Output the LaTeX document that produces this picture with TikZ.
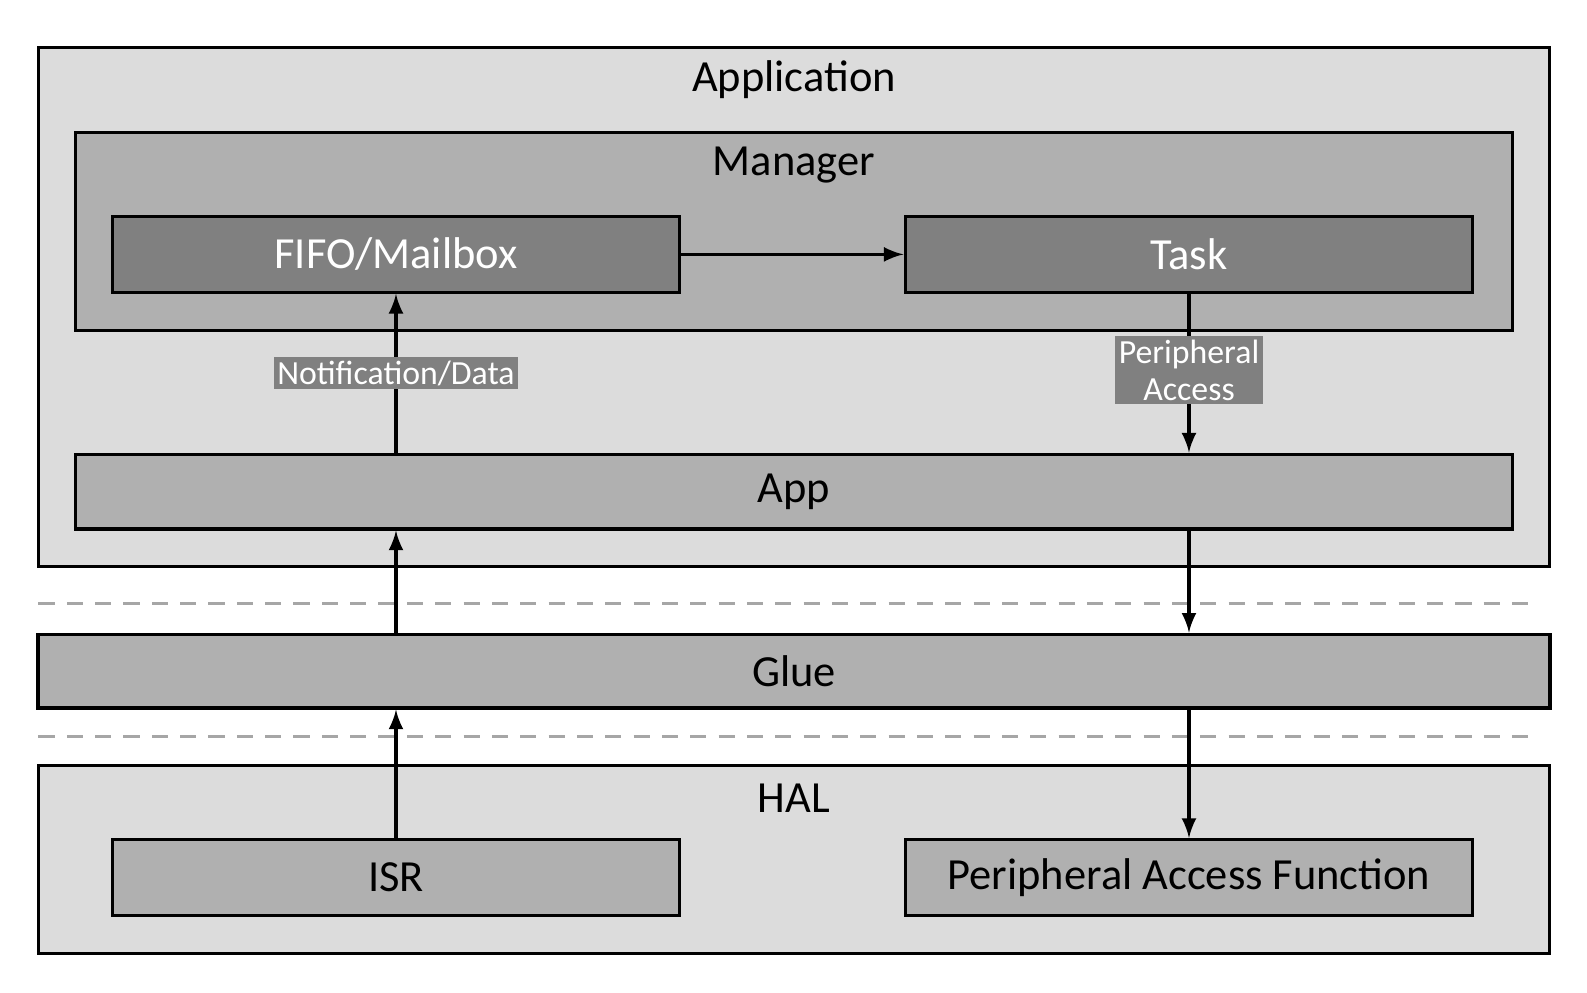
\documentclass[tikz,border=0pt]{standalone}
\usepackage{fontspec}
\setmainfont{Carlito}
\usetikzlibrary{positioning,arrows}
\definecolor{lightbg}{HTML}{DCDCDC}
\definecolor{midbg}{HTML}{B0B0B0}
\definecolor{darkbg}{HTML}{808080}
\tikzset{
    layer/.style = {
        draw,
        shape=rectangle,
        line width=0.9pt,
        inner sep=0pt
    },
    block/.style = {
        layer,
        fill=midbg,
        font=\fontsize{12.5}{14}\selectfont
    },
    dark/.style = {
        layer,
        fill=darkbg,
        text=white,
        font=\fontsize{12.5}{14}\selectfont
    },
    title/.style = {
        font=\fontsize{12.5}{14}\selectfont
    },
    lbl/.style = {
        fill=darkbg,
        text=white,
        inner sep=1pt,
        align=center,
        font=\fontsize{9.5}{10.5}\selectfont
    },
    sep/.style = {
        dashed,
        dash pattern=on 0.16cm off 0.12cm,
        draw=darkbg!70,
        line width=0.9pt
    },
    >=latex,
}
\begin{document}
\begin{tikzpicture}[x=0.01cm,y=-0.01cm]
    % layers
    \draw[layer,fill=lightbg] (38,47) rectangle (1532,560);
    \draw[layer,fill=midbg] (75,131) rectangle (1495,327);
    \draw[layer,fill=lightbg] (38,757) rectangle (1532,943);
    \node[title] (appl) at (785,79) {Application};
    \node[title] (mgr) at (785,163) {Manager};
    \node[title] (hal) at (785,789) {HAL};

    \node[dark, minimum width=5.61cm, minimum height=0.75cm] (fifo) at (391.5,251.5) {FIFO/Mailbox};
    \node[dark, minimum width=5.61cm, minimum height=0.75cm] (task) at (1175.5,251.5) {Task};
    \node[block, minimum width=14.2cm, minimum height=0.74cm] (app) at (785,486) {App};
    \node[block, minimum width=14.94cm, minimum height=0.73cm] (glue) at (785,663.5) {Glue};
    \node[block, minimum width=5.61cm, minimum height=0.75cm] (isr) at (391.5,867.5) {ISR};
    \node[block, minimum width=5.61cm, minimum height=0.75cm] (paf) at (1175.5,867.5) {Peripheral Access Function};

    % separators
    \coordinate (s1a) at (38,597);
    \coordinate (s1b) at (1520,597);
    \coordinate (s2a) at (38,728);
    \coordinate (s2b) at (1520,728);
    \draw[sep] (s1a) -- (s1b);
    \draw[sep] (s2a) -- (s2b);

    % connectors
    \draw[->, line width=0.9pt] (fifo.east) -- (task.west);
    \draw[->, line width=0.9pt] (app.north -| fifo) -- node[lbl] {Notification/Data} (fifo.south);
    \draw[->, line width=0.9pt] (task.south) -- node[lbl, pos=0.48] {Peripheral\\Access} (app.north -| task);
    \draw[->, line width=0.9pt] (glue.north -| fifo) -- (app.south -| fifo);
    \draw[->, line width=0.9pt] (app.south -| task) -- (glue.north -| task);
    \draw[->, line width=0.9pt] (isr.north) -- (glue.south -| isr);
    \draw[->, line width=0.9pt] (glue.south -| paf) -- (paf.north);

    \pgfresetboundingbox
    \useasboundingbox (0,0) rectangle (1569,981);
\end{tikzpicture}
\end{document}
